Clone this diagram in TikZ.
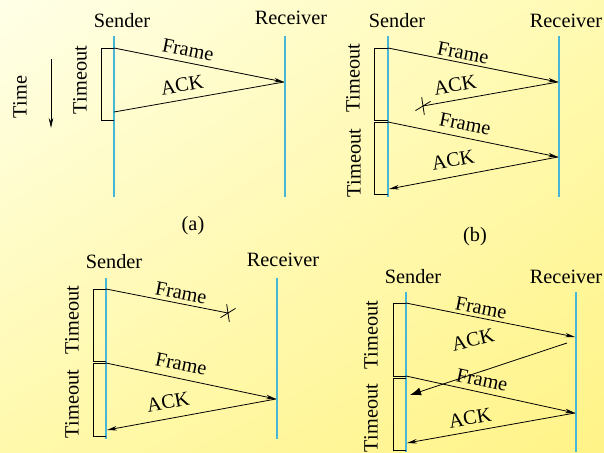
\documentclass[tikz,border=0pt]{standalone}
\usepackage{fontspec}
\setmainfont{Liberation Serif}
\usetikzlibrary{arrows.meta,shapes.misc,shadings}
\definecolor{lifeline}{RGB}{72,182,214}
\definecolor{bgul}{RGB}{255,255,232}
\definecolor{bgur}{RGB}{255,250,178}
\definecolor{bgll}{RGB}{255,249,172}
\definecolor{bglr}{RGB}{255,243,135}
\begin{document}
\begin{tikzpicture}[x=1pt,y=-1pt,
    font=\fontsize{20.3}{24}\selectfont,
    life/.style={lifeline, line width=1.6pt},
    msg/.style={line width=0.8pt, -{Stealth[length=10pt,width=4.5pt]}},
    bigmsg/.style={line width=0.8pt, -{Latex[length=11pt,width=8pt]}},
    lostmsg/.style={line width=0.8pt},
    bracket/.style={line width=0.7pt},
    tag/.style={inner sep=0pt, anchor=base},
    lbl/.style={inner sep=0pt},
    tmo/.style={inner sep=0pt, rotate=90},
    lose/.style={cross out, draw, line width=0.8pt, minimum width=9pt,
      minimum height=14pt, inner sep=0pt}]

  \shade[upper left=bgul, upper right=bgur, lower left=bgll, lower right=bglr]
    (0,0) rectangle (604,452);
  \useasboundingbox (0,0) rectangle (604,452);

  % time axis
  \node[tmo] (time) at (20,97) {Time};
  \coordinate (t0) at (51,59);
  \coordinate (t1) at (51,128);
  \draw[msg] (t0) -- (t1);

  % (a) frame and ack arrive
  \node[tag] (aSend) at (122,28) {Sender};
  \node[tag] (aRecv) at (291,25) {Receiver};
  \coordinate (aS0) at (114,36);  \coordinate (aS1) at (114,197);
  \coordinate (aR0) at (285,36);  \coordinate (aR1) at (285,197);
  \draw[life] (aS0) -- (aS1);
  \draw[life] (aR0) -- (aR1);
  \coordinate (aF0) at (114,48);
  \coordinate (aF1) at (284,82);
  \coordinate (aA1) at (114,112);
  \draw[msg] (aF0) -- (aF1);
  \draw[lostmsg] (aF1) -- (aA1);
  \node[lbl, rotate=-11.3] (aFrame) at (188,50) {Frame};
  \node[lbl, rotate=10] (aAck) at (182,85) {ACK};
  \coordinate (aT1) at (114,120);
  \draw[bracket] (aF0) -- ++(-13,0) |- (aT1);
  \node[tmo] (aTime) at (80,80) {Timeout};
  \node (aCap) at (193,226) {(a)};

  % (b) ack lost
  \node[tag] (bSend) at (397,28) {Sender};
  \node[tag] (bRecv) at (566,28) {Receiver};
  \coordinate (bS0) at (388,36);  \coordinate (bS1) at (388,197);
  \coordinate (bR0) at (559,36);  \coordinate (bR1) at (559,197);
  \draw[life] (bS0) -- (bS1);
  \draw[life] (bR0) -- (bR1);
  \coordinate (bF0) at (388,48);
  \coordinate (bF1) at (558,82);
  \node[lose, rotate=-25] (bX) at (423,106) {};
  \draw[msg] (bF0) -- (bF1);
  \draw[lostmsg] (bF1) -- (bX.center);
  \coordinate (bG0) at (388,122);
  \coordinate (bG1) at (558,157);
  \coordinate (bG2) at (389,189);
  \draw[msg] (bG0) -- (bG1);
  \draw[msg] (bG1) -- (bG2);
  \node[lbl, rotate=-11.3] (bFrame1) at (463,53) {Frame};
  \node[lbl, rotate=10] (bAck1) at (455,85) {ACK};
  \node[lbl, rotate=-11.5] (bFrame2) at (465,124) {Frame};
  \node[lbl, rotate=10.5] (bAck2) at (453,160) {ACK};
  \coordinate (bT1) at (388,120);
  \coordinate (bT2) at (388,194);
  \draw[bracket] (bF0) -- ++(-14,0) |- (bT1);
  \draw[bracket] (bG0) -- ++(-14,0) |- (bT2);
  \node[tmo] (bTime1) at (353,78) {Timeout};
  \node[tmo] (bTime2) at (354,163) {Timeout};
  \node (bCap) at (475,237) {(b)};

  % (c) frame lost
  \node[tag] (cSend) at (114,268) {Sender};
  \node[tag] (cRecv) at (283,266) {Receiver};
  \coordinate (cS0) at (106,278);  \coordinate (cS1) at (106,439);
  \coordinate (cR0) at (277,278);  \coordinate (cR1) at (277,439);
  \draw[life] (cS0) -- (cS1);
  \draw[life] (cR0) -- (cR1);
  \coordinate (cF0) at (106,289);
  \node[lose, rotate=-25] (cX) at (228,313) {};
  \draw[lostmsg] (cF0) -- (cX.center);
  \coordinate (cG0) at (106,363);
  \coordinate (cG1) at (276,399);
  \coordinate (cG2) at (107,430);
  \draw[msg] (cG0) -- (cG1);
  \draw[msg] (cG1) -- (cG2);
  \node[lbl, rotate=-11] (cFrame1) at (181,293) {Frame};
  \node[lbl, rotate=-11.6] (cFrame2) at (181,364) {Frame};
  \node[lbl, rotate=10.4] (cAck) at (168,402) {ACK};
  \coordinate (cT1) at (106,361);
  \coordinate (cT2) at (106,436);
  \draw[bracket] (cF0) -- ++(-13,0) |- (cT1);
  \draw[bracket] (cG0) -- ++(-13,0) |- (cT2);
  \node[tmo] (cTime1) at (72,320) {Timeout};
  \node[tmo] (cTime2) at (72,404) {Timeout};

  % (d) premature timeout
  \node[tag] (dSend) at (413,283) {Sender};
  \node[tag] (dRecv) at (566,283) {Receiver};
  \coordinate (dS0) at (406,292);  \coordinate (dS1) at (406,452);
  \coordinate (dR0) at (576,292);  \coordinate (dR1) at (576,452);
  \draw[life] (dS0) -- (dS1);
  \draw[life] (dR0) -- (dR1);
  \coordinate (dF0) at (406,303);
  \coordinate (dF1) at (575,337);
  \coordinate (dA0) at (567,343);
  \coordinate (dA1) at (410,395);
  \draw[msg] (dF0) -- (dF1);
  \draw[bigmsg] (dA0) -- (dA1);
  \coordinate (dG0) at (406,376);
  \coordinate (dG1) at (575,413);
  \coordinate (dG2) at (407,443);
  \draw[msg] (dG0) -- (dG1);
  \draw[msg] (dG1) -- (dG2);
  \node[lbl, rotate=-11.3] (dFrame1) at (481,308) {Frame};
  \node[lbl, rotate=13] (dAck1) at (473,340) {ACK};
  \node[lbl, rotate=-12] (dFrame2) at (482,380) {Frame};
  \node[lbl, rotate=10] (dAck2) at (470,418) {ACK};
  \coordinate (dT1) at (406,376);
  \coordinate (dT2) at (406,450);
  \draw[bracket] (dF0) -- ++(-13,0) |- (dT1);
  \draw[bracket] (dG0) ++(0,2) -- ++(-13,0) |- (dT2);
  \node[tmo] (dTime1) at (371,335) {Timeout};
  \node[tmo] (dTime2) at (371,418) {Timeout};
\end{tikzpicture}
\end{document}
